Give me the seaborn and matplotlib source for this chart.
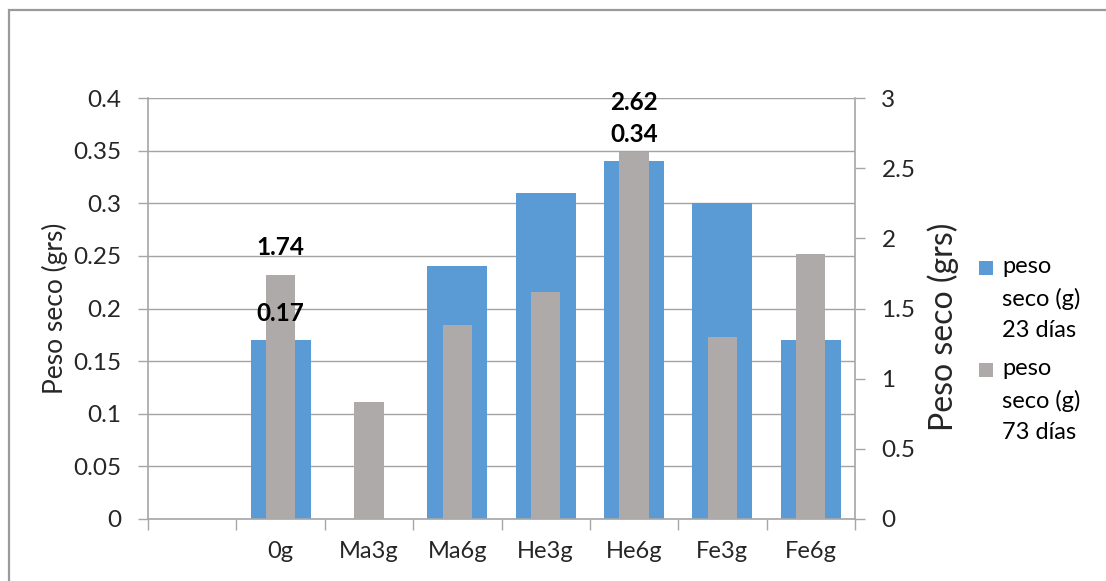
import numpy as np
import pandas as pd
import matplotlib
matplotlib.use("Agg")
import matplotlib.pyplot as plt
import seaborn as sns
from matplotlib.patches import Rectangle

# Dry weight per treatment: 23-day harvest (left axis) and 73-day harvest (right axis)
categories = ["", "0g", "Ma3g", "Ma6g", "He3g", "He6g", "Fe3g", "Fe6g"]
peso_23 = [np.nan, 0.17, 0.0, 0.24, 0.31, 0.34, 0.30, 0.17]
peso_73 = [np.nan, 1.74, 0.83, 1.38, 1.62, 2.62, 1.30, 1.89]
series_names = ["peso\nseco (g)\n23 días", "peso\nseco (g)\n73 días"]
labelled = ["0g", "He6g"]
left_ticks = [0, 0.05, 0.1, 0.15, 0.2, 0.25, 0.3, 0.35, 0.4]
right_ticks = [0, 0.5, 1, 1.5, 2, 2.5, 3]
ylabel = "Peso seco (grs)"

BLUE = "#5B9BD5"
GRAY = "#AEAAAA"
LINE = "#A6A6A6"
GRID = "#A3A3A3"

sns.set_theme(style="white")
plt.rcParams["font.family"] = ["Lato", "DejaVu Sans"]
plt.rcParams["text.color"] = "black"

df = pd.DataFrame({"cat": categories, "d23": peso_23, "d73": peso_73})

fig = plt.figure(figsize=(11.06, 5.81), dpi=100)
ax = fig.add_axes([148 / 1106, 1 - 518.7 / 581, 707 / 1106, 420.4 / 581])

sns.barplot(data=df, x="cat", y="d23", order=categories, color=BLUE,
            saturation=1, width=0.68, errorbar=None, linewidth=0, ax=ax)
ax.set_ylim(0, 0.4)
ax.set_xlim(-0.5, len(categories) - 0.5)

ax2 = ax.twinx()
sns.barplot(data=df, x="cat", y="d73", order=categories, color=GRAY,
            saturation=1, width=0.33, errorbar=None, linewidth=0, ax=ax2)
ax2.set_ylim(0, 3)
ax2.set_xlim(-0.5, len(categories) - 0.5)

# Left axis, gridlines and category ticks
ax.set_yticks(left_ticks)
ax.set_yticklabels([f"{v:g}" for v in left_ticks])
ax.yaxis.grid(True, color=GRID, linewidth=1.0)
ax.xaxis.grid(False)
ax.set_axisbelow(True)
ax.set_xticks(range(len(categories)))
ax.set_xticklabels(categories)
ax.set_xticks(np.arange(-0.5, len(categories), 1.0), minor=True)
ax.tick_params(axis="x", which="major", length=0, pad=16, labelsize=17)
ax.tick_params(axis="x", which="minor", length=8, width=1, color=LINE,
               direction="out", bottom=True)
ax.tick_params(axis="y", length=7, width=1, color=LINE, direction="out",
               pad=12, labelsize=17.5, left=True)
for side in ["top", "right"]:
    ax.spines[side].set_visible(False)
for side in ["left", "bottom"]:
    ax.spines[side].set_color(LINE)
    ax.spines[side].set_linewidth(1.2)
ax.set_xlabel("")
ax.set_ylabel(ylabel, fontsize=19, va="center")
ax.yaxis.set_label_coords(-0.1315, 0.5)

# Right axis
ax2.set_yticks(right_ticks)
ax2.set_yticklabels([f"{v:g}" for v in right_ticks])
ax2.tick_params(axis="y", length=7, width=1, color=LINE, direction="out",
                pad=12, labelsize=17.5, right=True)
for side in ["top", "left", "bottom"]:
    ax2.spines[side].set_visible(False)
ax2.spines["right"].set_color(LINE)
ax2.spines["right"].set_linewidth(1.2)
ax2.grid(False)
ax2.set_ylabel(ylabel, fontsize=23, va="center", rotation=90)
ax2.yaxis.set_label_coords(1.1245, 0.456)

# Value labels on selected bars (drawn on the top axes so they sit above the bars)
label_offsets = {("d23", "0g"): 27, ("d73", "0g"): 27,
                 ("d23", "He6g"): 27, ("d73", "He6g"): 49}
for col, trans in [("d23", ax.transData), ("d73", ax2.transData)]:
    for cat in labelled:
        i = categories.index(cat)
        v = df[col].iloc[i]
        ax2.annotate(f"{v:.2f}", xy=(i, v), xycoords=trans,
                     xytext=(0, label_offsets[(col, cat)]),
                     textcoords="offset pixels", ha="center", va="center",
                     fontsize=17.5, fontweight="bold", zorder=10)

# Legend
for k, (name, col) in enumerate(zip(series_names, [BLUE, GRAY])):
    y_top = 261 + k * 102
    fig.patches.append(Rectangle((979 / 1106, 1 - (y_top + 14) / 581),
                                 14 / 1106, 14 / 581, transform=fig.transFigure,
                                 facecolor=col, edgecolor="none"))
    fig.text(1002 / 1106, 1 - (y_top - 5) / 581, name, ha="left", va="top",
             fontsize=17, linespacing=1.6)

# Chart frame
fig.patches.append(Rectangle((8.5 / 1106, -0.05), 1.2, 1 - 10 / 581 + 0.05,
                             transform=fig.transFigure, facecolor="none",
                             edgecolor="#9A9A9A", linewidth=1.6))

fig.savefig("out.png", dpi=100)
